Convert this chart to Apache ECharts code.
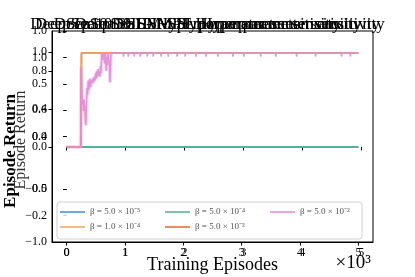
<!DOCTYPE html>
<html><head><meta charset="utf-8">
<script src="https://cdn.jsdelivr.net/npm/echarts@6/dist/echarts.min.js"></script>
<style>html,body{margin:0;padding:0;background:#fff}#c{width:415px;height:277px}</style>
</head><body><div id="c"></div>
<script>
// ---- data ----
const titles = [
  'DeepSea10 Hyperparameter sensitivity',
  'DeepSea10 DHSM-SSL Hyperparameter sensitivity',
  'DeepSea10 SSL-IMPF Hyperparameter sensitivity',
  'DeepSea10 HSM Hyperparameter sensitivity'
];
const yName = 'Episode Return';
const xName = 'Training Episodes';
const seriesNames = ['β = 5.0 × 10⁻⁵','β = 1.0 × 10⁻⁴','β = 5.0 × 10⁻⁴','β = 5.0 × 10⁻³','β = 5.0 × 10⁻²'];
const xTicks = [0,1000,2000,3000,4000,5000];
const blueData = [[0,0],[5000,0]];
const orangeData = [[0,0],[252,0],[262,0.99],[5000,0.99]];
const greenData = [[0,0],[5000,0]];
const darkOrangeData = [[0,0],[245,0],[252,0.99],[5000,0.99]];
const pinkNoisy = [[0,0],[240,0],[250,0.84],[260,0.62],[270,0.45],[280,0.5],[290,0.38],[300,0.5],[310,0.42],[320,0.3],[330,0.23],[340,0.45],[350,0.62],[360,0.55],[370,0.7],[380,0.6],[390,0.66],[400,0.72],[410,0.63],[420,0.68],[430,0.66],[440,0.71],[450,0.67],[460,0.73],[470,0.69],[480,0.74],[490,0.7],[500,0.78],[510,0.72],[520,0.8],[530,0.74],[540,0.82],[550,0.75],[560,0.8],[570,0.74],[580,0.85],[590,0.78],[600,0.95],[610,0.99],[620,0.92],[630,0.99],[640,0.97],[650,0.88],[660,0.99],[670,0.93],[680,0.8],[690,0.95],[700,0.86],[710,0.99],[730,0.9],[745,0.68],[760,0.99],[780,0.99]];
const pinkDips = [[973,0.95],[1058,0.95],[1160,0.95],[1263,0.95],[1382,0.95],[1485,0.95],[1621,0.95],[1741,0.95],[1894,0.95],[2031,0.95],[2218,0.95],[2389,0.95],[2594,0.95],[2850,0.95],[3038,0.95],[3328,0.95],[3584,0.95],[3942,0.95],[4266,0.95],[4710,0.95],[4863,0.95]];
const pinkPlateau = 0.99;
const pinkEnd = [5000,0.99];
const yTicksA = [0.0,0.4,0.8,1.0];
const yTicksB = [-1.0,-0.5,0.0,0.5,1.0];
const yTicksC = [-0.2,0.0,0.4,0.6,1.0];

// build pink series from dips
const pinkData = pinkNoisy.slice();
pinkDips.forEach(d => { pinkData.push([d[0]-8,pinkPlateau]); pinkData.push(d); pinkData.push([d[0]+8,pinkPlateau]); });
pinkData.push(pinkEnd);

const serif = 'Liberation Serif';
const fmt = v => (v < 0 ? '−' : '') + Math.abs(v).toFixed(1);
const colors = ['#3f8fd2','#f2a65a','#52b08e','#e5692a','#e08cd6'];
const lineIcon = 'path://M0,0h0.01v7h-0.01z M0,2.75h25v1.5h-25z';

const chart = echarts.init(document.getElementById('c'), null, {renderer:'canvas'});
const yBase = {type:'value', position:'left', offset:0, splitLine:{show:false},
  axisLine:{show:false}, axisTick:{show:true, length:3.5, lineStyle:{color:'#000'}},
  axisLabel:{color:'#000', fontFamily:serif, fontSize:12, margin:5, formatter:fmt}};
const legendBase = {orient:'horizontal', itemWidth:25, itemHeight:7, itemGap:16, icon:lineIcon,
  textStyle:{fontFamily:serif, fontSize:9, color:'#555', width:59, lineHeight:7}};
chart.setOption({
  animation:false,
  title: titles.map(t => ({text:t, left:'center', top:11, padding:[5,0,5,6], textStyle:{fontFamily:serif, fontWeight:'normal', fontSize:17, color:'#000'}}))
    .concat([{text:'×10³', right:39, top:249, textStyle:{fontFamily:serif, fontWeight:'normal', fontSize:19, color:'#000'}}]),
  grid:{left:52, right:42, top:31, bottom:35, show:true, borderColor:'#000', borderWidth:1, backgroundColor:'transparent', outerBoundsMode:'none', containLabel:false},
  graphic:[
    {type:'text', x:11, y:151, rotation:Math.PI/2, style:{text:yName, font:'bold 17px "Liberation Serif"', fill:'#000', align:'center', verticalAlign:'middle'}},
    {type:'text', x:21, y:140, rotation:Math.PI/2, style:{text:yName, font:'16px "Liberation Serif"', fill:'#333', align:'center', verticalAlign:'middle'}}
  ],
  legend:[
    Object.assign({}, legendBase, {left:57, top:202, padding:[5.5,3,22.5,3],
      borderColor:'#d0d0d0', borderWidth:1, borderRadius:3, backgroundColor:'rgba(255,255,255,0.8)',
      data:[seriesNames[0],seriesNames[2],seriesNames[4]]}),
    Object.assign({}, legendBase, {left:60, top:222.5, padding:0,
      data:[seriesNames[1],seriesNames[3]]})
  ],
  xAxis:[
    {type:'value', min:-250, max:5250, splitLine:{show:false},
     axisLine:{show:true, onZero:false, lineStyle:{color:'#000'}},
     axisTick:{customValues:xTicks, length:3.5, lineStyle:{color:'#000'}},
     axisLabel:{customValues:xTicks, color:'#000', fontFamily:serif, fontSize:12, margin:5, formatter:v=>String(v/1000)},
     name:xName, nameLocation:'middle', nameGap:14, nameMoveOverlap:false,
     nameTextStyle:{fontFamily:serif, fontSize:18, color:'#000'}},
    {type:'value', min:-250, max:5200, position:'bottom', offset:0, splitLine:{show:false},
     axisLine:{show:false}, axisTick:{customValues:xTicks, length:3.5, lineStyle:{color:'#000'}},
     axisLabel:{customValues:xTicks, color:'#000', fontFamily:serif, fontSize:12, margin:5, formatter:v=>String(v/1000)}}
  ],
  yAxis:[
    Object.assign({}, yBase, {min:-1.0, max:1.221, axisLine:{show:true, onZero:false, lineStyle:{color:'#000'}},
      axisTick:Object.assign({}, yBase.axisTick, {customValues:yTicksA}),
      axisLabel:Object.assign({}, yBase.axisLabel, {customValues:yTicksA})}),
    Object.assign({}, yBase, {min:-1.0, max:1.0,
      axisTick:Object.assign({}, yBase.axisTick, {customValues:yTicksB}),
      axisLabel:Object.assign({}, yBase.axisLabel, {customValues:yTicksB})}),
    Object.assign({}, yBase, {min:-0.4, max:1.2,
      axisTick:Object.assign({}, yBase.axisTick, {customValues:yTicksC}),
      axisLabel:Object.assign({}, yBase.axisLabel, {customValues:yTicksC})})
  ],
  series:[
    {name:seriesNames[0], type:'line', data:blueData, symbol:'none', z:2, lineStyle:{width:1.5}, color:colors[0]},
    {name:seriesNames[1], type:'line', data:orangeData, symbol:'none', z:4, lineStyle:{width:1.5}, color:colors[1]},
    {name:seriesNames[2], type:'line', data:greenData, symbol:'none', z:3, lineStyle:{width:1.5}, color:colors[2]},
    {name:seriesNames[3], type:'line', data:darkOrangeData, symbol:'none', z:3, lineStyle:{width:1.5}, color:colors[3]},
    {name:'band', type:'line', data:pinkNoisy, symbol:'none', z:5, lineStyle:{width:4, opacity:0.3}, color:colors[4]},
    {name:seriesNames[4], type:'line', data:pinkData, symbol:'none', z:5, lineStyle:{width:1.5, opacity:0.9}, color:colors[4]}
  ]
});
</script></body></html>
